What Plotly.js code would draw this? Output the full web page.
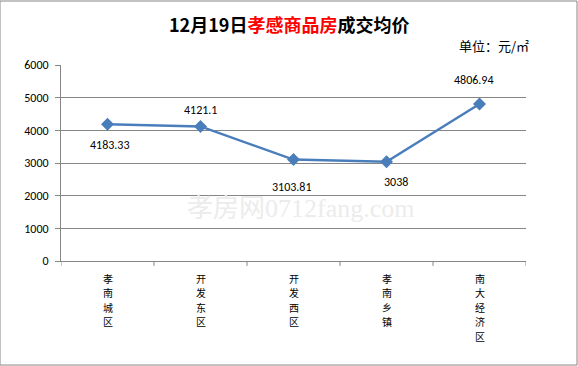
<!DOCTYPE html>
<html><head><meta charset="utf-8">
<script src="https://cdn.plot.ly/plotly-3.0.1.min.js"></script>
<style>html,body{margin:0;padding:0;background:#fff}#c{width:578px;height:366px}</style>
</head><body><div id="c"></div>
<script>
const categories = ["孝南城区","开发东区","开发西区","孝南乡镇","南大经济区"];
const prices = [4183.33, 4121.1, 3103.81, 3038, 4806.94];
const yTicks = [0,1000,2000,3000,4000,5000,6000];

const font = "'Microsoft YaHei','Noto Sans CJK SC',sans-serif";
const numFont = "Carlito,'Noto Sans','Open Sans',sans-serif";
// label offsets (pixels) relative to each point: [xshift, yshift]
const labelShift = [[2,-21],[0,16],[-2,-27],[9,-20],[-6,24]];

const trace = {
  x: categories.map((c,i)=>i), y: prices, type: "scatter", mode: "lines+markers",
  line: {color: "#4a7ebb", width: 2.5},
  marker: {symbol: "diamond", size: 10, color: "#4a7ebb"},
  cliponaxis: false, hoverinfo: "skip"
};

const catAnn = [];
categories.forEach((c,i) => {
  c.split("").forEach((ch,j) => {
    catAnn.push({xref: "x", yref: "paper", x: i, y: 0, yshift: -(17 + 14.6*j), xanchor: "center", yanchor: "middle",
      showarrow: false, borderpad: 0, text: ch, font: {family: font, size: 10, color: "#000"}});
  });
});

const layout = {
  width: 578, height: 366, paper_bgcolor: "#fff", plot_bgcolor: "#fff",
  margin: {l: 61, r: 52, t: 65, b: 105},
  showlegend: false,
  font: {family: font, size: 12, color: "#000"},
  xaxis: {range: [-0.5, 4.5], tickvals: [0,1,2,3,4], showticklabels: false,
    showgrid: false, showline: true, linecolor: "#868686", linewidth: 1,
    ticks: "", zeroline: false, fixedrange: true},
  yaxis: {range: [0, 6000], tickvals: yTicks, showgrid: true, gridcolor: "#868686",
    gridwidth: 1, showline: true, linecolor: "#868686", ticks: "outside", ticklen: 5,
    tickcolor: "#868686", tickfont: {family: numFont, size: 12}, zeroline: false, ticklabelstandoff: 4},
  shapes: [
    {type: "rect", xref: "paper", yref: "paper", x0: -61/465, x1: (465+52-1)/465, y0: -104/196, y1: (196+64)/196,
     line: {color: "#868686", width: 1}},
    ...[0,1,2,3,4,5].map(i => ({type: "line", xref: "x", yref: "paper", x0: i-0.5, x1: i-0.5, y0: 0, y1: -0.025,
      line: {color: "#868686", width: 1}}))
  ],
  annotations: [
    {xref: "paper", yref: "paper", x: 0.49, y: 1.209, xanchor: "center", yanchor: "middle", showarrow: false,
     text: "<b>12月19日<span style='color:#ff0000'>孝感商品房</span>成交均价</b>",
     font: {family: font, size: 18, color: "#000"}},
    {xref: "paper", yref: "paper", x: 1.01, y: 1.1, xanchor: "right", yanchor: "middle", showarrow: false,
     text: "单位：元/㎡", font: {family: font, size: 13, color: "#000"}},
    {xref: "paper", yref: "paper", x: 0.515, y: 0.285, xanchor: "center", yanchor: "middle", showarrow: false,
     text: "孝房网<span style='font-family:serif'>0712fang.com</span>", font: {family: "'Noto Sans CJK SC',serif", size: 26, color: "#ececec"}},
    ...prices.map((v,i) => ({xref: "x", yref: "y", x: i, y: v, xshift: labelShift[i][0], yshift: labelShift[i][1],
      xanchor: "center", yanchor: "middle", showarrow: false, text: String(v),
      font: {family: numFont, size: 12, color: "#000"}})),
    ...catAnn
  ]
};
Plotly.newPlot("c", [trace], layout, {displayModeBar: false, staticPlot: true});
</script></body></html>
